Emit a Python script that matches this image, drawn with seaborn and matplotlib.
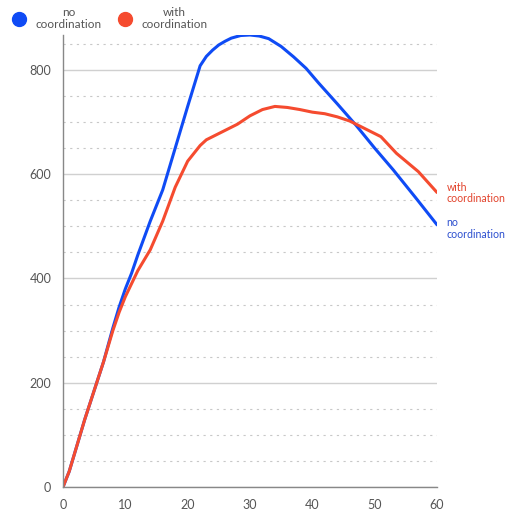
import numpy as np
import pandas as pd
import matplotlib.pyplot as plt
import seaborn as sns
from matplotlib.lines import Line2D
from matplotlib.ticker import MultipleLocator

# data
x_no = [0, 1, 2, 3.5, 5, 6.5, 8, 9, 10, 11, 12, 14, 16, 18, 20, 22, 23, 24, 25, 26, 27,
        28.5, 30, 31.5, 33, 35, 37, 39, 41, 44, 47, 50, 53, 56.5, 60]
y_no = [0, 30, 70, 130, 185, 240, 305, 345, 380, 410, 445, 510, 570, 650, 730, 808, 826,
        838, 848, 855, 861, 866, 867, 865, 860, 845, 825, 803, 775, 735, 694, 650, 608,
        556, 503]

x_with = [0, 1, 2, 3.5, 5, 6.5, 8, 9, 10, 11, 12, 14, 16, 18, 20, 22, 23, 24, 26, 28, 30,
          32, 34, 36, 38, 40, 42, 44, 46, 48, 51, 53.5, 57, 60]
y_with = [0, 30, 70, 130, 185, 240, 300, 335, 365, 390, 415, 455, 510, 575, 625, 655, 666,
          672, 684, 696, 712, 724, 730, 728, 724, 719, 716, 710, 702, 690, 672, 640, 605, 565]

blue = '#0f4bf5'
red = '#f54b2f'
blue_txt = '#2c4fcf'
red_txt = '#e2432c'
grey = '#555555'

df = pd.concat([
    pd.DataFrame({'time': x_no, 'value': y_no, 'series': 'no coordination'}),
    pd.DataFrame({'time': x_with, 'value': y_with, 'series': 'with coordination'}),
])

sns.set_style('white')
plt.rcParams['font.family'] = ['Lato', 'DejaVu Sans']

fig = plt.figure(figsize=(5.07, 5.12), dpi=100)
ax = fig.add_axes([63 / 507, 25 / 512, 374 / 507, 452 / 512])

sns.lineplot(data=df, x='time', y='value', hue='series',
             palette={'no coordination': blue, 'with coordination': red},
             linewidth=2.2, legend=False, ax=ax, sort=False)

ax.set_xlim(0, 60)
ax.set_ylim(0, 867)
ax.xaxis.set_major_locator(MultipleLocator(10))
ax.yaxis.set_major_locator(MultipleLocator(200))
ax.yaxis.set_minor_locator(MultipleLocator(50))

ax.grid(which='major', axis='y', color='#d0d0d0', linewidth=1)
ax.grid(which='minor', axis='y', color='#c8c8c8', linewidth=0.8, linestyle=(0, (2, 4)))
ax.grid(which='major', axis='x', visible=False)
ax.set_axisbelow(True)

for s in ['top', 'right']:
    ax.spines[s].set_visible(False)
for s in ['left', 'bottom']:
    ax.spines[s].set_color('#888888')
    ax.spines[s].set_linewidth(1)

ax.tick_params(axis='both', which='major', length=7, width=1, color='#888888',
               labelsize=9, labelcolor=grey, pad=1.5)
ax.tick_params(axis='y', which='minor', length=0)
ax.set_xlabel('')
ax.set_ylabel('')

# end labels
ax.text(60 + 1.5, y_with[-1] - 1, 'with\ncoordination', color=red_txt, fontsize=7.6,
        va='center', ha='left', linespacing=1.1, clip_on=False)
ax.text(60 + 1.5, y_no[-1] - 7, 'no\ncoordination', color=blue_txt, fontsize=7.6,
        va='center', ha='left', linespacing=1.1, clip_on=False)

# legend at top-left
handles = [Line2D([], [], marker='o', linestyle='', markersize=10, color=blue),
           Line2D([], [], marker='o', linestyle='', markersize=10, color=red)]
leg = fig.legend(handles, ['no\ncoordination', 'with\ncoordination'], loc='upper left',
                 bbox_to_anchor=(0.0, 1.0), ncol=2, frameon=False, fontsize=8.5,
                 handletextpad=0.4, columnspacing=1.0, labelcolor=grey,
                 borderaxespad=0.2)
for t in leg.get_texts():
    t.set_multialignment('center')
    t.set_linespacing(1.05)

fig.savefig('out.png', dpi=100)
